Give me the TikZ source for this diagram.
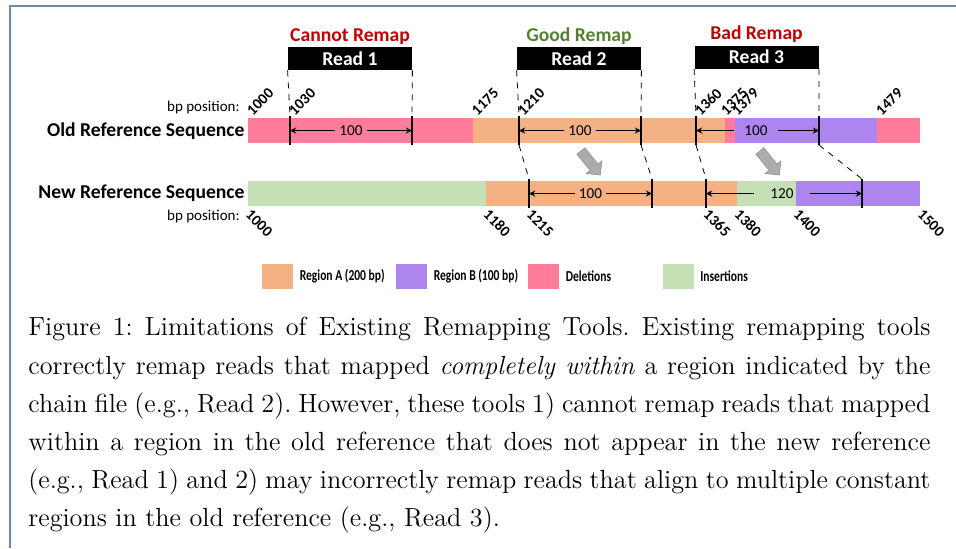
\documentclass[tikz,border=0pt]{standalone}
\usepackage{fontspec}
\newfontfamily\calfont{Carlito}
\usepackage{tikz}
\usetikzlibrary{positioning, shapes.arrows}

\definecolor{regA}{HTML}{F4B183}
\definecolor{regB}{HTML}{AE84EE}
\definecolor{delcol}{HTML}{FF7D9A}
\definecolor{inscol}{HTML}{C5E0B4}
\definecolor{framecol}{HTML}{6F88A8}
\definecolor{badred}{HTML}{C00000}
\definecolor{goodgreen}{HTML}{548235}

\newcommand{\narrow}[1]{\scalebox{0.76}[1]{#1}}

\tikzset{
  tick/.style={line width=1.3pt},
  msr/.style={font=\calfont\fontsize{7.6}{9}\selectfont, inner sep=2pt},
  msrline/.style={line width=0.4pt, ->},
  numup/.style={font=\calfont\bfseries\fontsize{7.6}{8}\selectfont, rotate=45, anchor=west, inner sep=0pt},
  numdown/.style={font=\calfont\bfseries\fontsize{7.6}{8}\selectfont, rotate=-45, anchor=west, inner sep=0pt},
  readbox/.style={fill=black, text=white, font=\calfont\bfseries\fontsize{9.8}{11}\selectfont,
    minimum width=62pt, minimum height=11.5pt, inner sep=0pt},
  verdict/.style={font=\calfont\bfseries\fontsize{9.8}{11}\selectfont, inner sep=1pt},
  seqname/.style={font=\calfont\bfseries\fontsize{9.8}{11}\selectfont, anchor=east, inner sep=0pt},
  bplabel/.style={font=\calfont\fontsize{7.5}{9}\selectfont, anchor=east, inner sep=0pt},
  swatch/.style={minimum width=15.5pt, minimum height=12.5pt, inner sep=0pt},
  legtext/.style={font=\calfont\bfseries\fontsize{7.6}{9}\selectfont, anchor=west, inner sep=0pt},
  movearrow/.style={single arrow, fill=gray!65, draw=gray!85, line width=0.3pt,
    minimum height=15.5pt, minimum width=10pt, single arrow head extend=2.5pt, inner sep=2.4pt},
}

\begin{document}
\begin{tikzpicture}[x=0.5pt, y=-0.5pt, >=stealth]
\useasboundingbox (0,0) rectangle (956,548);
\draw[framecol, line width=1pt] (9.5,548) -- (9.5,5.5) -- (956,5.5);

% old reference
\fill[delcol] (248,118) rectangle (473,143);
\fill[regA] (473,118) rectangle (725,143);
\fill[delcol] (725,118) rectangle (735,143);
\fill[regB] (735,118) rectangle (877,143);
\fill[delcol] (877,118) rectangle (920,143);

% new reference
\fill[inscol] (248,181) rectangle (486,206);
\fill[regA] (486,181) rectangle (737,206);
\fill[inscol] (737,181) rectangle (796,206);
\fill[regB] (796,181) rectangle (920,206);

\node[seqname] (oldname) at (245,131) {Old Reference Sequence};
\node[seqname] (newname) at (245,193) {New Reference Sequence};
\node[bplabel] (bpold) at (240,107) {bp position:};
\node[bplabel] (bpnew) at (240,216) {bp position:};

\foreach \n/\x in {o1/290, o2/412, o3/519, o4/641, o5/696, o6/819}
  \draw[tick] (\x,116) coordinate (\n t) -- (\x,130.5) coordinate (\n m) -- (\x,145) coordinate (\n b);
\foreach \n/\x in {n1/529, n2/652, n3/706, n4/862}
  \draw[tick] (\x,179) coordinate (\n t) -- (\x,193.5) coordinate (\n m) -- (\x,208) coordinate (\n b);

\foreach \x/\v in {248/1000, 290/1030, 473/1175, 519/1210, 696/1360, 722/1375, 733/1379, 877/1479}
  \node[numup] at (\x+1,113) {\v};
\foreach \x/\v in {248/1000, 486/1180, 529/1215, 706/1365, 737/1380, 796/1400, 920/1500}
  \node[numdown] at (\x,212) {\v};

% read lengths
\node[msr] (m1) at (351,130.5) {100};
\draw[msrline] (m1) -- (o1m);
\draw[msrline] (m1) -- (o2m);
\node[msr] (m2) at (580,130.5) {100};
\draw[msrline] (m2) -- (o3m);
\draw[msrline] (m2) -- (o4m);
\node[msr, inner xsep=5pt] (m3) at (756,130.5) {100};
\draw[msrline] (m3) -- (o5m);
\draw[msrline] (m3) -- (o6m);
\node[msr] (m4) at (590.5,193.5) {100};
\draw[msrline] (m4) -- (n1m);
\draw[msrline] (m4) -- (n2m);
\node[msr, inner xsep=8pt] (m5) at (782,193.5) {120};
\draw[msrline] (m5) -- (n3m);
\draw[msrline] (m5) -- (n4m);

% reads
\node[readbox] (r1) at (350,58.5) {Read 1};
\node[readbox] (r2) at (579,58.5) {Read 2};
\node[readbox] (r3) at (756.5,57) {Read 3};
\node[verdict, text=badred, above=0pt of r1] (v1) {Cannot Remap};
\node[verdict, text=goodgreen, above=0pt of r2] (v2) {Good Remap};
\node[verdict, text=badred, above=0pt of r3] (v3) {Bad Remap};

\draw[dashed, line width=0.4pt] (r1.south west) -- (o1t);
\draw[dashed, line width=0.4pt] (r1.south east) -- (o2t);
\draw[dashed, line width=0.4pt] (r2.south west) -- (o3t);
\draw[dashed, line width=0.4pt] (r2.south east) -- (o4t);
\draw[dashed, line width=0.4pt] (r3.south west) -- (o5t);
\draw[dashed, line width=0.4pt] (r3.south east) -- (o6t);

% old -> new
\draw[dashed, line width=0.4pt] (o3b) -- (n1t);
\draw[dashed, line width=0.4pt] (o4b) -- (n2t);
\draw[dashed, line width=0.4pt] (o5b) -- (n3t);
\draw[dashed, line width=0.4pt] (o6b) -- (n4t);

\node[movearrow, rotate=-51] (s1) at (589,161) {};
\node[movearrow, rotate=-51] (s2) at (768,161) {};

% legend
\node[swatch, fill=regA] (sw1) at (277.5,276.5) {};
\node[legtext, right=3pt of sw1] (lg1) {\narrow{Region A (200 bp)}};
\node[swatch, fill=regB] (sw2) at (411.5,276.5) {};
\node[legtext, right=3pt of sw2] (lg2) {\narrow{Region B (100 bp)}};
\node[swatch, fill=delcol] (sw3) at (543.5,276.5) {};
\node[legtext, right=3pt of sw3] (lg3) {\narrow{Deletions}};
\node[swatch, fill=inscol] (sw4) at (678,276.5) {};
\node[legtext, right=3pt of sw4] (lg4) {\narrow{Insertions}};

% caption
\node[anchor=north west, text width=451pt, align=justify, inner sep=0pt,
  font=\fontsize{13.1}{19.1}\selectfont\frenchspacing] (cap) at (28,317)
  {Figure 1: Limitations of Existing Remapping Tools. Existing remapping tools\linebreak
   correctly remap reads that mapped \emph{completely within} a region indicated by the\linebreak
   chain file (e.g., Read 2). However, these tools 1) cannot remap reads that mapped\linebreak
   within a region in the old reference that does not appear in the new reference\linebreak
   (e.g., Read 1) and 2) may incorrectly remap reads that align to multiple constant\linebreak
   regions in the old reference (e.g., Read 3).};
\end{tikzpicture}
\end{document}
